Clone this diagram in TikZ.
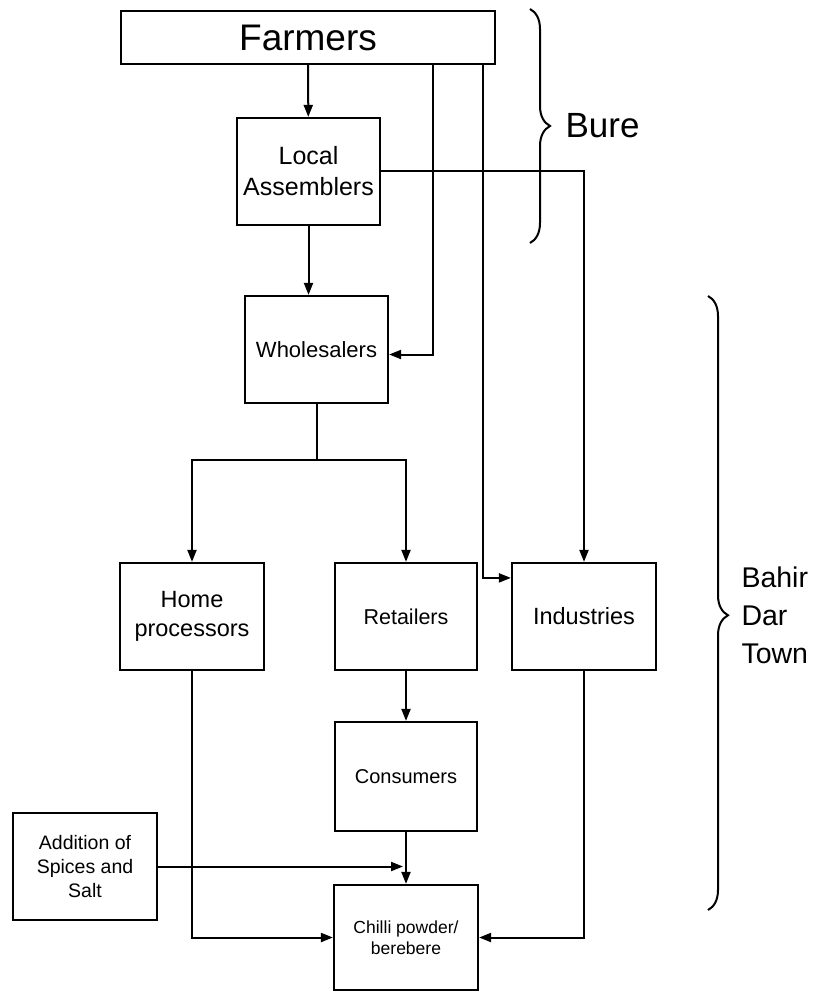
\documentclass[tikz,border=0pt]{standalone}
\usepackage{fontspec}
\setmainfont{Liberation Sans}
\usepackage{tikz}
\usetikzlibrary{arrows.meta,decorations.pathreplacing}
\tikzstyle{box}=[draw,rectangle,line width=2.2pt,inner sep=0pt,align=center]
\tikzstyle{edge} = [draw,line width=2pt,-{Triangle[length=12pt,width=9pt]}]
\tikzstyle{line} = [draw,line width=2pt,-]
\tikzstyle{bracket} = [draw,line width=2pt,decorate,decoration={brace,amplitude=20pt}]

\begin{document}
\begin{tikzpicture}[x=1pt,y=-1pt]
    \useasboundingbox (0,0) rectangle (816,992);
    % Draw the market chain
    % First we draw the boxes
    \foreach \pos/\name/\w/\h/\fs/\bs/\txt in {
        {(308,37.5)/farmers/374/53/37/40/Farmers},
        {(308.5,171.5)/assem/143/107/25/31/{Local\\Assemblers}},
        {(316.5,349.5)/whole/143/107/22/26/Wholesalers},
        {(192,616.5)/home/144/107/23.5/29/{Home\\processors}},
        {(406,616.5)/retail/142/107/21.5/26/Retailers},
        {(584,616.5)/indus/144/107/23.5/29/Industries},
        {(406,776.5)/consum/142/109/20/25/Consumers},
        {(85,866.5)/spice/144/107/19.5/24/{Addition of\\Spices and\\Salt}},
        {(406,937.5)/chilli/144/105/17.5/21/{Chilli powder/\\berebere}}}
        \node[box,minimum width=\w pt,minimum height=\h pt,
              font=\fontsize{\fs}{\bs}\selectfont] (\name) at \pos {\txt};
    % Points where the long lines leave the farmers
    \coordinate (f1) at (433,64);
    \coordinate (f2) at (483,64);
    \coordinate (split) at (316.5,460);
    % Connect boxes with arrows
    \path[edge] (farmers) -- (assem);
    \path[edge] (assem.south) -- (assem.south |- whole.north);
    \path[edge] (f1) |- ([yshift=-5pt]whole.east);
    \path[edge] (f2) |- ([yshift=-16pt]indus.north west);
    \path[edge] (assem.east) -| (indus.north);
    \path[line] (whole.south) -- (split);
    \foreach \dest in {home, retail}
        \path[edge] (split) -| (\dest.north);
    \foreach \source/ \dest in {retail/consum, consum/chilli}
        \path[edge] (\source) -- (\dest) ;
    \path[edge] (spice.east) -- ([xshift=-3pt]spice.east -| chilli.north);
    \path[edge] (home.south) |- (chilli.west);
    \path[edge] (indus.south) |- (chilli.east);
    % Braces for the two places
    \coordinate (bt) at (530,9);
    \coordinate (bb) at (530,243);
    \coordinate (tt) at (708,296);
    \coordinate (tb) at (708,910);
    \begin{scope}[y=1pt]
        \path[bracket] (bt) -- (bb);
        \path[bracket,decoration={aspect=0.52}] (tt) -- (tb);
    \end{scope}
    \node[anchor=west,font=\fontsize{35}{40}\selectfont] (bure) at (562,126) {Bure};
    \node[anchor=west,align=left,font=\fontsize{28.5}{38}\selectfont] (town) at (738,615) {Bahir\\Dar\\Town};
\end{tikzpicture}
\end{document}
